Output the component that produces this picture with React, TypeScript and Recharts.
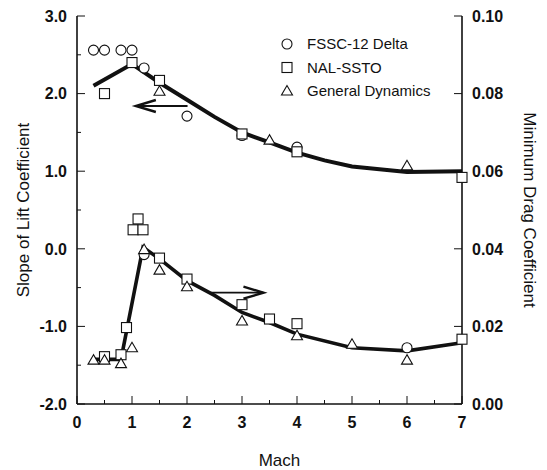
import React from 'react';
import { ComposedChart, Line, Scatter, XAxis, YAxis, ReferenceLine, Legend } from 'recharts';

const FONT = '"Liberation Sans", Arial, Helvetica, sans-serif';
const INK = '#111111';

// Axis ticks (majors get labels, halves are minor tick marks)
const machTicks = [0, 0.5, 1, 1.5, 2, 2.5, 3, 3.5, 4, 4.5, 5, 5.5, 6, 6.5, 7];
const liftTicks = [-2, -1.5, -1, -0.5, 0, 0.5, 1, 1.5, 2, 2.5, 3];
const dragTicks = [0, 0.02, 0.04, 0.06, 0.08, 0.1];

// Legend
const legendNames = ['FSSC-12 Delta', 'NAL-SSTO', 'General Dynamics'];

// Slope of lift coefficient (left axis): [Mach, value]
const fsscLift: [number, number][] = [[0.3, 2.56], [0.5, 2.56], [0.8, 2.56], [1.0, 2.56], [1.22, 2.33], [2.0, 1.71], [3.0, 1.46], [4.0, 1.31]];
const nalLift: [number, number][] = [[0.5, 2.0], [1.0, 2.4], [1.5, 2.17], [3.0, 1.48], [4.0, 1.25], [7.0, 0.92]];
const gdLift: [number, number][] = [[1.5, 2.03], [3.5, 1.4], [6.0, 1.07]];
const liftFit: [number, number][] = [[0.3, 2.1], [1.0, 2.38], [1.5, 2.14], [2.0, 1.92], [2.5, 1.7], [3.0, 1.5], [3.5, 1.37], [4.0, 1.24], [4.5, 1.14], [5.0, 1.06], [6.0, 0.99], [7.0, 1.0]];

// Minimum drag coefficient (right axis): [Mach, value]
const fsscDrag: [number, number][] = [[1.22, 0.0385], [6.0, 0.0145]];
const nalDrag: [number, number][] = [[0.5, 0.0122], [0.8, 0.0127], [0.9, 0.0197], [1.02, 0.0449], [1.11, 0.0477], [1.2, 0.0449], [1.5, 0.0376], [2.0, 0.0322], [3.0, 0.0256], [3.5, 0.0219], [4.0, 0.0207], [7.0, 0.0167]];
const gdDrag: [number, number][] = [[0.3, 0.0113], [0.5, 0.0113], [0.8, 0.0104], [1.0, 0.0145], [1.22, 0.0398], [1.5, 0.0345], [2.0, 0.0302], [3.0, 0.0214], [4.0, 0.0176], [5.0, 0.0154], [6.0, 0.0113]];
const dragFit: [number, number][] = [[0.3, 0.0115], [0.8, 0.0115], [1.2, 0.0404], [1.5, 0.0374], [2.0, 0.0318], [2.5, 0.028], [3.0, 0.0236], [3.5, 0.021], [4.0, 0.018], [5.0, 0.0145], [6.0, 0.0137], [7.0, 0.0158]];

// Arrows: [tail, head] in (Mach, value)
const liftArrow: [number, number][] = [[2.01, 1.84], [1.07, 1.84]];
const dragArrow: [number, number][] = [[2.44, 0.0287], [3.39, 0.0287]];

const toRows = (pts: [number, number][]) => pts.map(([m, v]) => ({ m, v }));

const CircleMark = (p: any) => <circle cx={p.cx} cy={p.cy} r={5} fill="#fff" stroke={INK} strokeWidth={1.1} />;
const SquareMark = (p: any) => <rect x={p.cx - 5} y={p.cy - 5} width={10} height={10} fill="#fff" stroke={INK} strokeWidth={1.1} />;
const TriangleMark = (p: any) => (
  <polygon points={`${p.cx},${p.cy - 5.5} ${p.cx - 5.5},${p.cy + 4} ${p.cx + 5.5},${p.cy + 4}`} fill="#fff" stroke={INK} strokeWidth={1.1} />
);

const ArrowShape = (p: any) => {
  const { x1, y1, x2, y2 } = p;
  const dx = x2 - x1, dy = y2 - y1;
  const len = Math.sqrt(dx * dx + dy * dy) || 1;
  const ux = dx / len, uy = dy / len;
  const bx = x2 - ux * 20, by = y2 - uy * 20;
  const px = -uy * 6, py = ux * 6;
  return (
    <g>
      <line x1={x1} y1={y1} x2={x2} y2={y2} stroke={INK} strokeWidth={1.8} />
      <polyline points={`${bx + px},${by + py} ${x2},${y2} ${bx - px},${by - py}`} fill="none" stroke={INK} strokeWidth={2.4} />
    </g>
  );
};

const isMajor = (v: number) => Math.abs(v - Math.round(v)) < 1e-9;

const BottomTick = (p: any) => {
  const v = p.payload.value;
  const axisY = p.y - 13;
  return (
    <g>
      <line x1={p.x} y1={axisY} x2={p.x} y2={axisY - (isMajor(v) ? 8 : 4)} stroke={INK} strokeWidth={1} />
      {isMajor(v) && (
        <text x={p.x} y={p.y} dy="0.71em" textAnchor="middle" fontFamily={FONT} fontSize={16} fontWeight="bold" fill={INK}>{v}</text>
      )}
    </g>
  );
};

const TopTick = (p: any) => {
  const v = p.payload.value;
  return <line x1={p.x} y1={p.y} x2={p.x} y2={p.y + (isMajor(v) ? 8 : 4)} stroke={INK} strokeWidth={1} />;
};

const LeftTick = (p: any) => {
  const v = p.payload.value;
  const axisX = p.x + 10;
  return (
    <g>
      <line x1={axisX} y1={p.y} x2={axisX + (isMajor(v) ? 8 : 4)} y2={p.y} stroke={INK} strokeWidth={1} />
      {isMajor(v) && (
        <text x={p.x} y={p.y} dy="0.36em" textAnchor="end" fontFamily={FONT} fontSize={16} fontWeight="bold" fill={INK}>{v.toFixed(1)}</text>
      )}
    </g>
  );
};

const RightTick = (p: any) => {
  const v = p.payload.value;
  const axisX = p.x - 10;
  return (
    <g>
      <line x1={axisX} y1={p.y} x2={axisX - 8} y2={p.y} stroke={INK} strokeWidth={1} />
      <text x={p.x} y={p.y} dy="0.36em" textAnchor="start" fontFamily={FONT} fontSize={16} fontWeight="bold" fill={INK}>{v.toFixed(2)}</text>
    </g>
  );
};

const LegendBox = () => {
  const marks = [CircleMark, SquareMark, TriangleMark];
  return (
    <svg width={200} height={75} style={{ overflow: 'visible' }}>
      {legendNames.map((name, i) => {
        const Mark = marks[i];
        const cy = 14 + i * 23.5;
        return (
          <g key={name}>
            <Mark cx={11} cy={cy} />
            <text x={31} y={cy} dy="0.36em" fontFamily={FONT} fontSize={15} fill={INK}>{name}</text>
          </g>
        );
      })}
    </svg>
  );
};

export default function App() {
  return (
    <div style={{ position: 'absolute', left: 0, top: 0, background: '#fff' }}>
      <ComposedChart width={547} height={470} margin={{ top: 16, right: 0, bottom: 0, left: 0 }}>
        <XAxis
          xAxisId="x"
          dataKey="m"
          type="number"
          domain={[0, 7]}
          ticks={machTicks}
          interval={0}
          height={66}
          tickSize={0}
          tickMargin={13}
          tickLine={false}
          axisLine={{ stroke: INK, strokeWidth: 1.6 }}
          tick={BottomTick}
          label={(props: any) => {
            const vb = props.viewBox;
            return (
              <text x={vb.x + vb.width / 2 + 10} y={vb.y + 56} dy="0.35em" textAnchor="middle" fontFamily={FONT} fontSize={17} fill={INK}>Mach</text>
            );
          }}
        />
        <XAxis
          xAxisId="top"
          orientation="top"
          type="number"
          domain={[0, 7]}
          ticks={machTicks}
          interval={0}
          height={0}
          tickSize={0}
          tickMargin={0}
          tickLine={false}
          axisLine={{ stroke: INK, strokeWidth: 1.6 }}
          tick={TopTick}
        />
        <YAxis
          yAxisId="lift"
          orientation="left"
          type="number"
          domain={[-2, 3]}
          ticks={liftTicks}
          interval={0}
          width={77}
          tickSize={0}
          tickMargin={10}
          tickLine={false}
          axisLine={{ stroke: INK, strokeWidth: 1.6 }}
          tick={LeftTick}
          label={(props: any) => {
            const vb = props.viewBox;
            const cx = vb.x + 23;
            const cy = vb.y + vb.height / 2;
            return (
              <text x={cx} y={cy} dy="0.35em" transform={`rotate(-90, ${cx}, ${cy})`} textAnchor="middle" fontFamily={FONT} fontSize={17} fill={INK}>Slope of Lift Coefficient</text>
            );
          }}
        />
        <YAxis
          yAxisId="drag"
          orientation="right"
          type="number"
          domain={[0, 0.1]}
          ticks={dragTicks}
          interval={0}
          width={85}
          tickSize={0}
          tickMargin={10}
          tickLine={false}
          axisLine={{ stroke: INK, strokeWidth: 1.6 }}
          tick={RightTick}
          label={(props: any) => {
            const vb = props.viewBox;
            const cx = vb.x + 68;
            const cy = vb.y + vb.height / 2;
            return (
              <text x={cx} y={cy} dy="0.35em" transform={`rotate(90, ${cx}, ${cy})`} textAnchor="middle" fontFamily={FONT} fontSize={17} fill={INK}>Minimum Drag Coefficient</text>
            );
          }}
        />

        <Line xAxisId="x" yAxisId="lift" data={toRows(liftFit)} dataKey="v" type="linear" stroke={INK} strokeWidth={4} dot={false} activeDot={false} isAnimationActive={false} />
        <Line xAxisId="x" yAxisId="drag" data={toRows(dragFit)} dataKey="v" type="linear" stroke={INK} strokeWidth={3.6} dot={false} activeDot={false} isAnimationActive={false} />

        <Scatter xAxisId="x" yAxisId="lift" data={toRows(fsscLift)} dataKey="v" shape={CircleMark} isAnimationActive={false} />
        <Scatter xAxisId="x" yAxisId="lift" data={toRows(nalLift)} dataKey="v" shape={SquareMark} isAnimationActive={false} />
        <Scatter xAxisId="x" yAxisId="lift" data={toRows(gdLift)} dataKey="v" shape={TriangleMark} isAnimationActive={false} />
        <Scatter xAxisId="x" yAxisId="drag" data={toRows(fsscDrag)} dataKey="v" shape={CircleMark} isAnimationActive={false} />
        <Scatter xAxisId="x" yAxisId="drag" data={toRows(nalDrag)} dataKey="v" shape={SquareMark} isAnimationActive={false} />
        <Scatter xAxisId="x" yAxisId="drag" data={toRows(gdDrag)} dataKey="v" shape={TriangleMark} isAnimationActive={false} />

        <ReferenceLine xAxisId="x" yAxisId="lift" segment={toRows(liftArrow).map((r) => ({ x: r.m, y: r.v }))} shape={ArrowShape} />
        <ReferenceLine xAxisId="x" yAxisId="drag" segment={toRows(dragArrow).map((r) => ({ x: r.m, y: r.v }))} shape={ArrowShape} />

        <Legend
          layout="vertical"
          align="center"
          verticalAlign="middle"
          content={() => <LegendBox />}
          wrapperStyle={{ position: 'absolute', left: 276, top: 30, width: 200, height: 75 }}
        />
      </ComposedChart>
    </div>
  );
}
